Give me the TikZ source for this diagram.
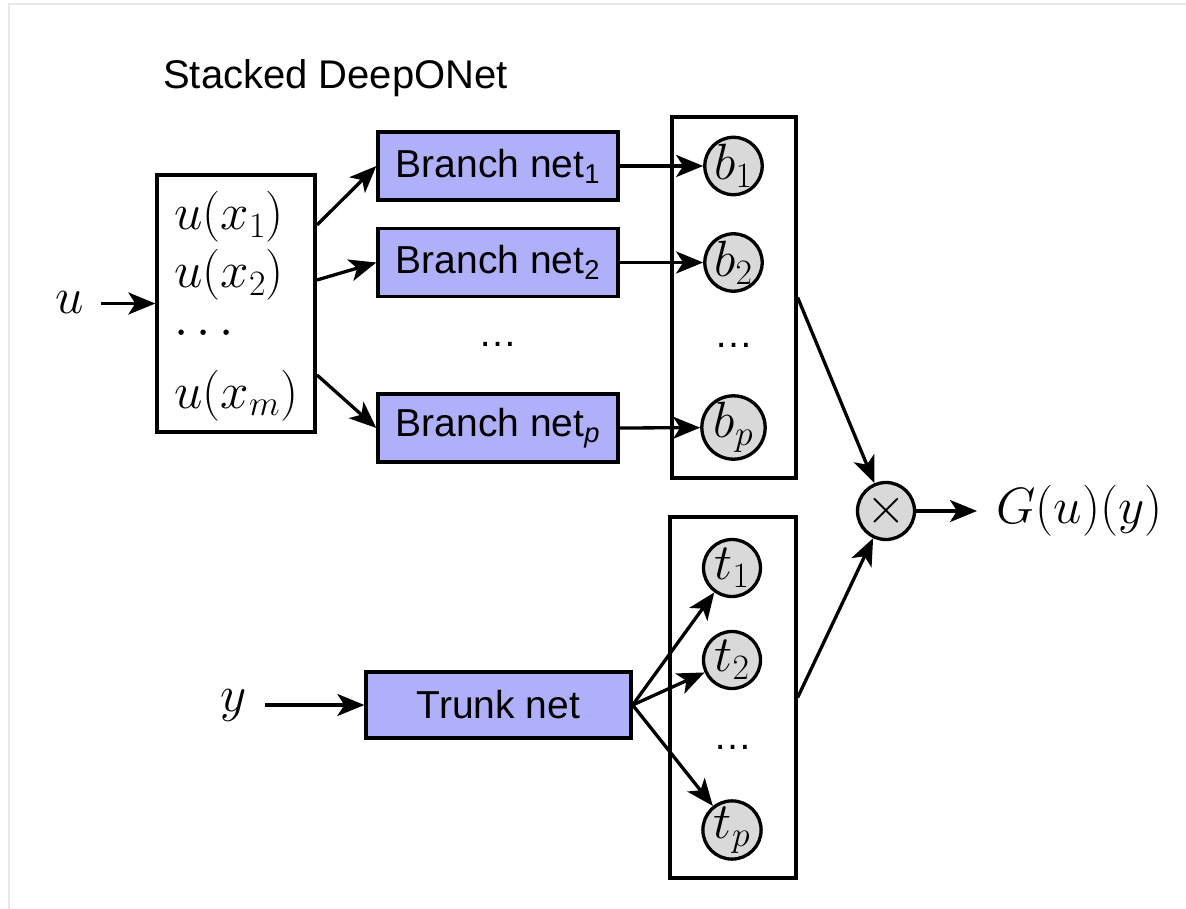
\RequirePackage{fix-cm}
\documentclass[tikz,border=0pt]{standalone}
\usepackage{fontspec}
\newfontfamily\hv{Liberation Sans}
\usetikzlibrary{arrows.meta}
\definecolor{netblue}{RGB}{176,176,250}
\definecolor{circgray}{RGB}{217,217,217}
\definecolor{framegray}{RGB}{232,232,232}
\begin{document}
\begin{tikzpicture}[x=1pt,y=-1pt,
  lw/.style={line width=3.3pt},
  arr/.style={lw, -{Stealth[length=27pt,width=22pt,inset=7pt]}},
  netbox/.style={draw, lw, fill=netblue, minimum width=240pt, minimum height=68pt, inner sep=0pt, font=\hv\fontsize{39}{46}\selectfont},
  outbox/.style={draw, lw, minimum width=124pt, minimum height=361pt, inner sep=0pt},
  unit/.style={draw, lw, circle, fill=circgray, minimum size=57pt, inner sep=0pt, font=\fontsize{51}{60}\selectfont},
  mathtxt/.style={inner sep=0pt, font=\fontsize{51}{60}\selectfont},
  sansdots/.style={inner sep=0pt, font=\hv\fontsize{39}{46}\selectfont},
]
\useasboundingbox (0,0) rectangle (1186,909);
\draw[framegray, line width=2pt] (9,909) -- (9,4) -- (1186,4);

\node[anchor=base west, inner sep=0pt, font=\hv\fontsize{40}{48}\selectfont] (title) at (163,89) {Stacked DeepONet};

% input box
\node[draw, lw, minimum width=158pt, minimum height=257pt, inner sep=0pt] (inbox) at (236,303.5) {};
\node[mathtxt, anchor=base west] (ux1) at (174,230) {$u(x_1)$};
\node[mathtxt, anchor=base west] (ux2) at (174,288) {$u(x_2)$};
\node[mathtxt, anchor=base west] (udots) at (174,345) {$\cdots$};
\node[mathtxt, anchor=base west] (uxm) at (174,408) {$u(x_m)$};

\node[mathtxt, anchor=base] (ulab) at (70,313) {$u$};
\node[mathtxt, anchor=base] (ylab) at (234,711) {$y$};

% branch nets
\node[netbox] (b1net) at (498,166) {Branch net\textsubscript{1}};
\node[netbox] (b2net) at (498,262.5) {Branch net\textsubscript{2}};
\node[sansdots] (bdots) at (498,344) {…};
\node[netbox] (bpnet) at (498,428) {Branch net\textsubscript{\itshape p}};

% branch outputs
\node[outbox] (bbox) at (734,297.5) {};
\node[unit] (b1) at (733.5,166) {$b_1$};
\node[unit] (b2) at (733.5,262.5) {$b_2$};
\node[sansdots] (bcdots) at (733.5,345) {…};
\node[unit] (bp) at (733.5,427.5) {$b_p$};

% trunk
\node[netbox, minimum width=265pt, minimum height=66pt] (trunk) at (498.5,705) {Trunk net};
\node[outbox, minimum width=126pt] (tbox) at (733,697.5) {};
\node[unit] (t1) at (732,568) {$t_1$};
\node[unit] (t2) at (732,660) {$t_2$};
\node[sansdots] (tdots) at (733,747) {…};
\node[unit] (tp) at (732,830) {$t_p$};

% product
\node[unit] (times) at (886,511) {$\times$};
\node[mathtxt, anchor=base west] (out) at (996,523) {$G(u)(y)$};

% connector ends
\coordinate (uin) at (101,303.5);
\coordinate (yin) at (265,705);
\coordinate (s1) at (317,225);
\coordinate (s2) at (317,280);
\coordinate (sp) at (317,375);
\coordinate (gend) at (977,511);

\draw[arr] (uin) -- (inbox.west);
\draw[arr] (s1) -- (b1net.west);
\draw[arr] (s2) -- (b2net.west);
\draw[arr] (sp) -- (bpnet.west);
\draw[arr] (b1net.east) -- (b1);
\draw[arr] (b2net.east) -- (b2);
\draw[arr] (bpnet.east) -- (bp);
\draw[arr] (yin) -- (trunk.west);
\draw[arr] (trunk.east) -- (t1);
\draw[arr] (trunk.east) -- (t2);
\draw[arr] (trunk.east) -- (tp);
\draw[arr] (bbox.east) -- (times);
\draw[arr] (tbox.east) -- (times);
\draw[arr] (times) -- (gend);
\end{tikzpicture}
\end{document}
